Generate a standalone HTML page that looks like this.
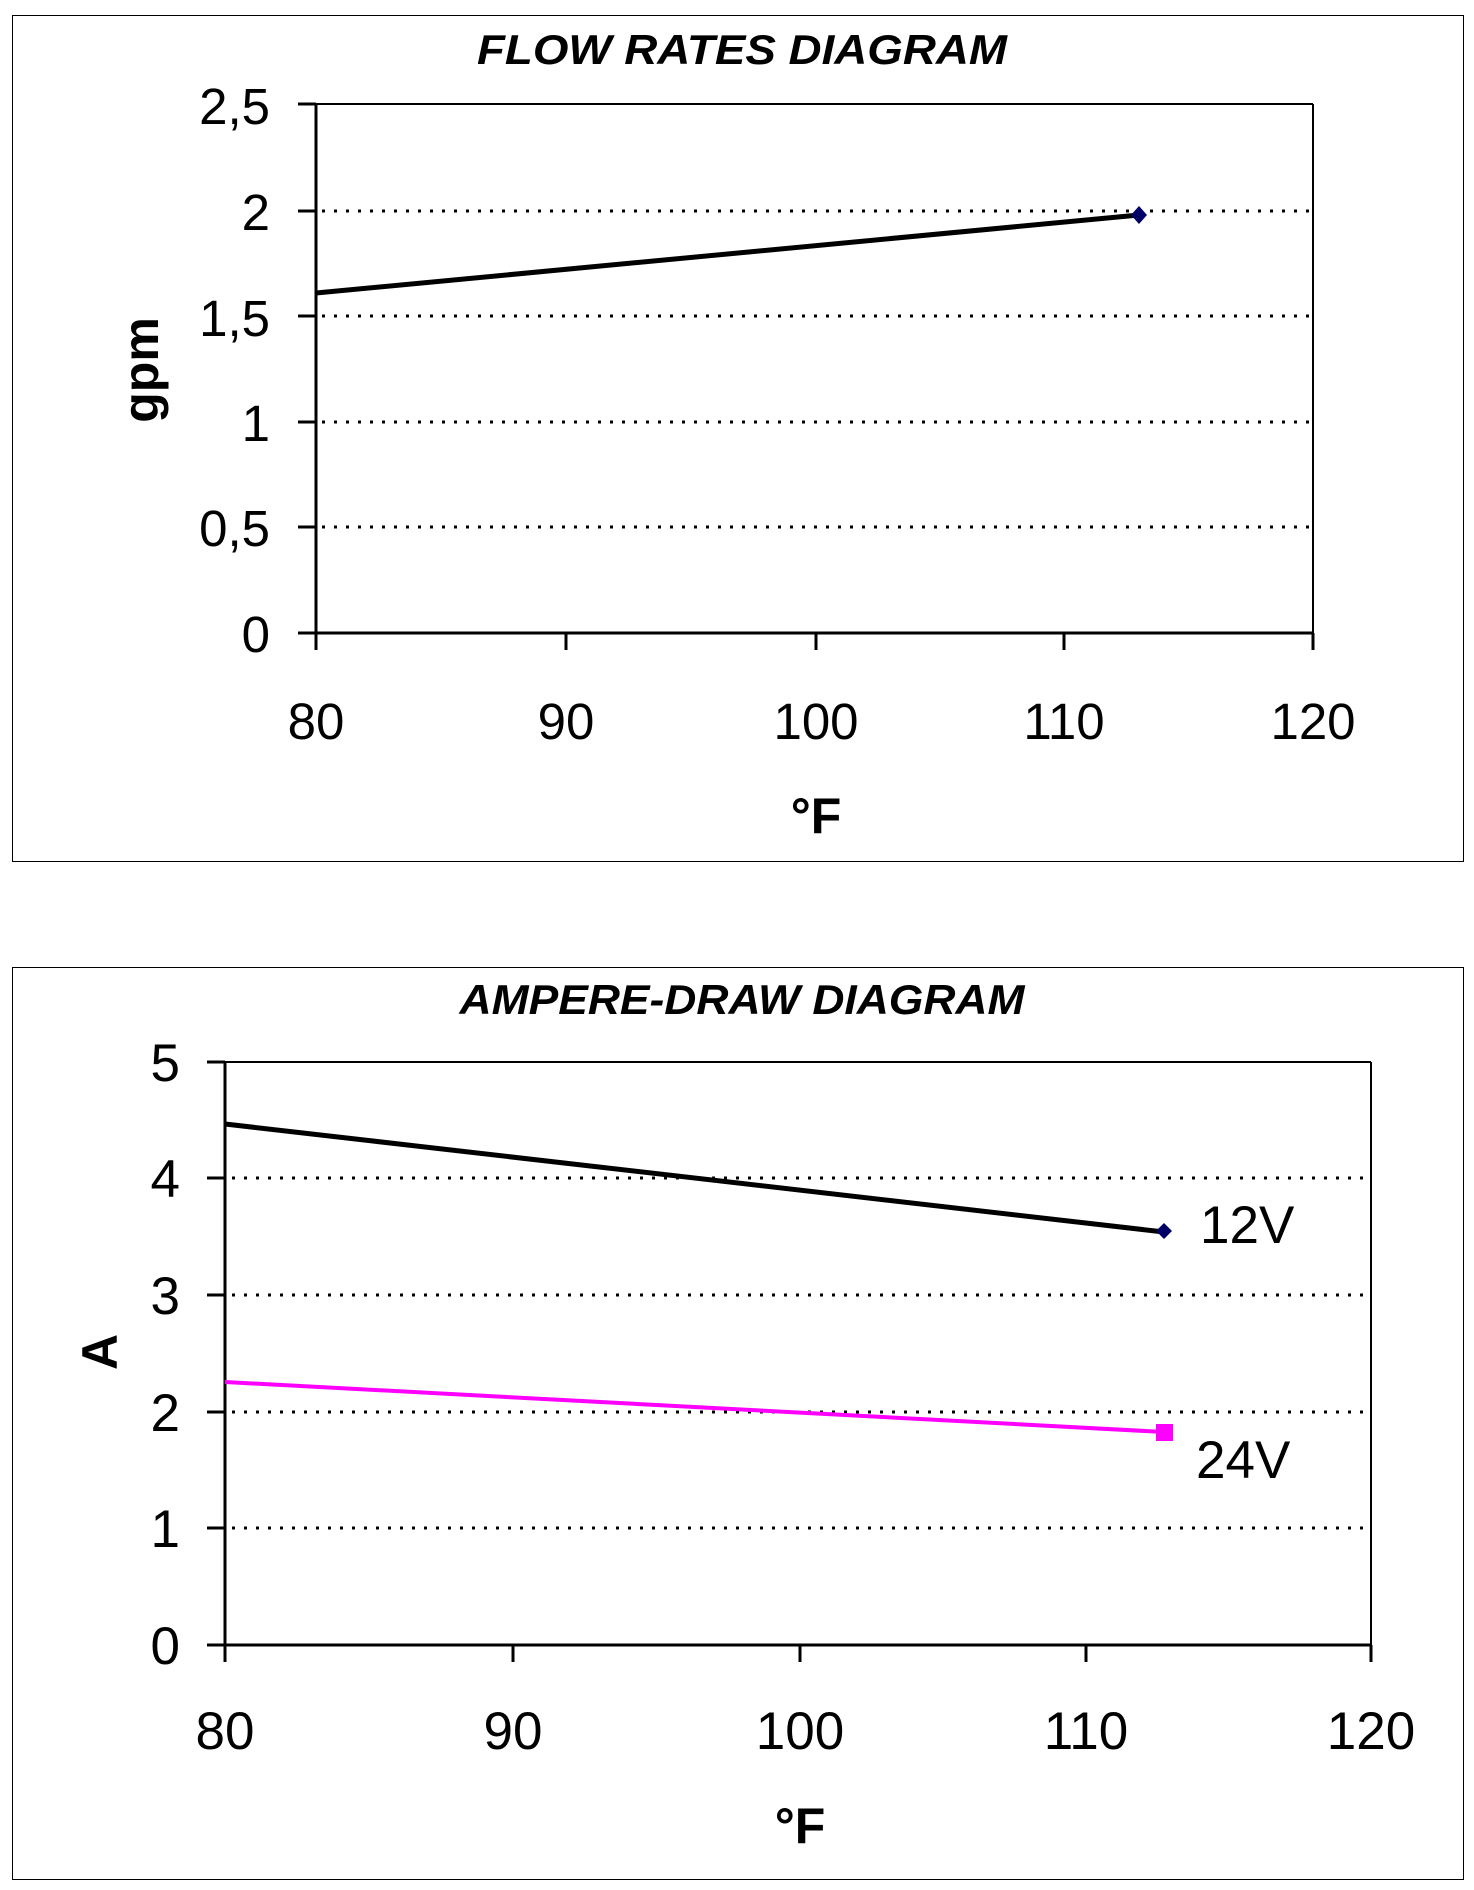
<!DOCTYPE html>
<html><head><meta charset="utf-8"><style>
html,body{margin:0;padding:0;background:#fff}
svg{display:block}
text{font-family:"Liberation Sans",Arial,sans-serif;fill:#000}
</style></head><body>
<svg width="1474" height="1890" viewBox="0 0 1474 1890" xmlns="http://www.w3.org/2000/svg">
<rect x="0" y="0" width="1474" height="1890" fill="#fff"/>
<!-- Chart 1 -->
<rect x="12.5" y="15.5" width="1451" height="846" fill="none" stroke="#000" stroke-width="1"/>
<text x="742" y="64" text-anchor="middle" font-size="42" font-weight="bold" font-style="italic" textLength="530" lengthAdjust="spacingAndGlyphs">FLOW RATES DIAGRAM</text>
<g stroke="#000" stroke-width="3" stroke-dasharray="3 9" fill="none">
<line x1="322" y1="211" x2="1313" y2="211"/>
<line x1="322" y1="316" x2="1313" y2="316"/>
<line x1="322" y1="422" x2="1313" y2="422"/>
<line x1="322" y1="527" x2="1313" y2="527"/>
</g>
<g stroke="#000" stroke-width="2" fill="none">
<line x1="316" y1="104" x2="1313" y2="104"/>
<line x1="1313" y1="104" x2="1313" y2="633"/>
</g>
<g stroke="#000" stroke-width="3" fill="none">
<line x1="316" y1="104" x2="316" y2="633"/>
<line x1="298" y1="633" x2="1313" y2="633"/>
<line x1="298" y1="104" x2="316" y2="104"/>
<line x1="298" y1="211" x2="316" y2="211"/>
<line x1="298" y1="316" x2="316" y2="316"/>
<line x1="298" y1="422" x2="316" y2="422"/>
<line x1="298" y1="527" x2="316" y2="527"/>
<line x1="316" y1="633" x2="316" y2="650"/>
<line x1="566" y1="633" x2="566" y2="650"/>
<line x1="816" y1="633" x2="816" y2="650"/>
<line x1="1064" y1="633" x2="1064" y2="650"/>
<line x1="1313" y1="633" x2="1313" y2="650"/>
</g>
<g font-size="51" text-anchor="end">
<text x="270" y="124">2,5</text>
<text x="270" y="230">2</text>
<text x="270" y="336">1,5</text>
<text x="270" y="441">1</text>
<text x="270" y="546">0,5</text>
<text x="270" y="652">0</text>
</g>
<g font-size="51" text-anchor="middle">
<text x="316" y="739">80</text>
<text x="566" y="739">90</text>
<text x="816" y="739">100</text>
<text x="1064" y="739">110</text>
<text x="1313" y="739">120</text>
</g>
<text x="816" y="833" text-anchor="middle" font-size="50" font-weight="bold">°F</text>
<text transform="translate(158,370) rotate(-90)" text-anchor="middle" font-size="50" font-weight="bold">gpm</text>
<line x1="316" y1="293" x2="1139" y2="215" stroke="#000" stroke-width="5"/>
<polygon points="1139,206 1147,215 1139,224 1131,215" fill="#000066"/>

<!-- Chart 2 -->
<rect x="12.5" y="967.5" width="1451" height="912" fill="none" stroke="#000" stroke-width="1"/>
<text x="742" y="1014" text-anchor="middle" font-size="42" font-weight="bold" font-style="italic" textLength="565" lengthAdjust="spacingAndGlyphs">AMPERE-DRAW DIAGRAM</text>
<g stroke="#000" stroke-width="3" stroke-dasharray="3 9" fill="none">
<line x1="232" y1="1178" x2="1371" y2="1178"/>
<line x1="232" y1="1295" x2="1371" y2="1295"/>
<line x1="232" y1="1412" x2="1371" y2="1412"/>
<line x1="232" y1="1528" x2="1371" y2="1528"/>
</g>
<g stroke="#000" stroke-width="2" fill="none">
<line x1="225" y1="1062" x2="1371" y2="1062"/>
<line x1="1371" y1="1062" x2="1371" y2="1645"/>
</g>
<g stroke="#000" stroke-width="3" fill="none">
<line x1="225" y1="1062" x2="225" y2="1645"/>
<line x1="207" y1="1645" x2="1371" y2="1645"/>
<line x1="207" y1="1062" x2="225" y2="1062"/>
<line x1="207" y1="1178" x2="225" y2="1178"/>
<line x1="207" y1="1295" x2="225" y2="1295"/>
<line x1="207" y1="1412" x2="225" y2="1412"/>
<line x1="207" y1="1528" x2="225" y2="1528"/>
<line x1="225" y1="1645" x2="225" y2="1662"/>
<line x1="513" y1="1645" x2="513" y2="1662"/>
<line x1="800" y1="1645" x2="800" y2="1662"/>
<line x1="1086" y1="1645" x2="1086" y2="1662"/>
<line x1="1371" y1="1645" x2="1371" y2="1662"/>
</g>
<g font-size="53" text-anchor="end">
<text x="180" y="1081">5</text>
<text x="180" y="1197">4</text>
<text x="180" y="1314">3</text>
<text x="180" y="1431">2</text>
<text x="180" y="1547">1</text>
<text x="180" y="1664">0</text>
</g>
<g font-size="53" text-anchor="middle">
<text x="225" y="1749">80</text>
<text x="513" y="1749">90</text>
<text x="800" y="1749">100</text>
<text x="1086" y="1749">110</text>
<text x="1371" y="1749">120</text>
</g>
<text x="800" y="1843" text-anchor="middle" font-size="50" font-weight="bold">°F</text>
<text transform="translate(117,1352) rotate(-90)" text-anchor="middle" font-size="50" font-weight="bold">A</text>
<line x1="225" y1="1124" x2="1164" y2="1232" stroke="#000" stroke-width="5"/>
<polygon points="1164,1223 1172,1231 1164,1239 1156,1231" fill="#000066"/>
<line x1="225" y1="1382" x2="1164" y2="1432" stroke="#ff00ff" stroke-width="4"/>
<rect x="1156" y="1424" width="17" height="17" fill="#ff00ff"/>
<text x="1200" y="1243" font-size="53">12V</text>
<text x="1196" y="1478" font-size="53">24V</text>
</svg>
</body></html>
